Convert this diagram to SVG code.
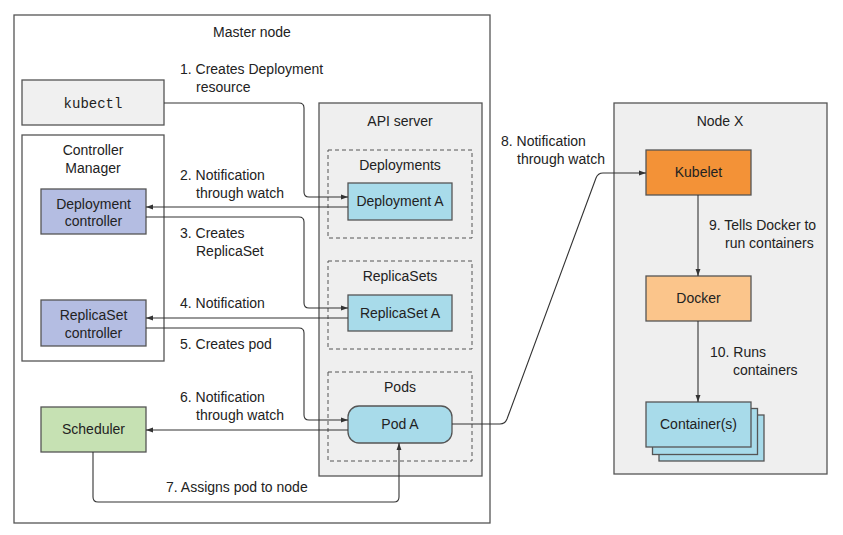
<svg xmlns="http://www.w3.org/2000/svg" width="843" height="535" viewBox="0 0 843 535">
<defs>
<marker id="ah" viewBox="0 0 10 10" refX="10" refY="5" markerWidth="7" markerHeight="7" markerUnits="userSpaceOnUse" orient="auto">
<path d="M0,1.5 L10,5 L0,8.5 z" fill="#333"/>
</marker>
<style>
text{font-family:"Liberation Sans",Arial,sans-serif;font-size:14px;fill:#222}
.c{text-anchor:middle}
.mono{font-family:"Liberation Mono","Courier New",monospace;font-size:14px}
.box{stroke:#555;stroke-width:1.3}
.dash{fill:none;stroke:#555;stroke-width:1;stroke-dasharray:4,3}
.conn path{fill:none;stroke:#333;stroke-width:1.1;marker-end:url(#ah)}
</style>
</defs>
<rect width="843" height="535" fill="#fff"/>

<g id="master">
<rect x="14" y="15" width="476" height="508" fill="#fff" class="box"/>
<text x="252" y="37" class="c">Master node</text>
</g>

<g id="kubectl">
<rect x="22" y="80" width="142" height="45" fill="#f0f0f0" class="box"/>
<text x="93" y="108" class="c mono">kubectl</text>
</g>

<g id="controller-manager">
<rect x="22" y="135" width="142" height="226" fill="#fff" class="box"/>
<text x="93" y="155" class="c">Controller</text>
<text x="93" y="173" class="c">Manager</text>
</g>

<g id="deployment-controller">
<rect x="41" y="189" width="105" height="45" fill="#b4bde2" class="box"/>
<text x="93.5" y="209" class="c">Deployment</text>
<text x="93.5" y="226" class="c">controller</text>
</g>

<g id="replicaset-controller">
<rect x="41" y="300" width="105" height="46" fill="#b4bde2" class="box"/>
<text x="93.5" y="320" class="c">ReplicaSet</text>
<text x="93.5" y="338" class="c">controller</text>
</g>

<g id="scheduler">
<rect x="41" y="407" width="105" height="45" fill="#c6e1b3" class="box"/>
<text x="93.5" y="434" class="c">Scheduler</text>
</g>

<g id="api-server">
<rect x="319" y="103" width="163" height="373" fill="#efefef" class="box"/>
<text x="400" y="126" class="c">API server</text>
<rect x="328" y="150" width="144" height="88" class="dash"/>
<text x="400" y="170" class="c">Deployments</text>
<rect x="328" y="261" width="144" height="88" class="dash"/>
<text x="400" y="281" class="c">ReplicaSets</text>
<rect x="328" y="372" width="144" height="89" class="dash"/>
<text x="400" y="392" class="c">Pods</text>
</g>

<g id="deployment-a">
<rect x="348" y="183" width="104" height="37" fill="#a8dbea" class="box"/>
<text x="400" y="206" class="c">Deployment A</text>
</g>

<g id="replicaset-a">
<rect x="348" y="295" width="104" height="36" fill="#a8dbea" class="box"/>
<text x="400" y="318" class="c">ReplicaSet A</text>
</g>

<g id="pod-a">
<rect x="348" y="406" width="104" height="37" rx="11" fill="#a8dbea" class="box"/>
<text x="400" y="429" class="c">Pod A</text>
</g>

<g id="node-x">
<rect x="614" y="103" width="213" height="371" fill="#efefef" class="box"/>
<text x="720" y="126" class="c">Node X</text>
</g>

<g id="kubelet">
<rect x="646" y="150" width="105" height="45" fill="#f39237" class="box"/>
<text x="698.5" y="177" class="c">Kubelet</text>
</g>

<g id="docker">
<rect x="646" y="276" width="105" height="45" fill="#fbc58b" class="box"/>
<text x="698.5" y="303" class="c">Docker</text>
</g>

<g id="containers">
<rect x="659" y="415" width="105" height="46" fill="#a8dbea" class="box"/>
<rect x="652.5" y="408.5" width="105" height="46" fill="#a8dbea" class="box"/>
<rect x="646" y="402" width="105" height="45" fill="#a8dbea" class="box"/>
<text x="698.5" y="429" class="c">Container(s)</text>
</g>

<g id="connectors" class="conn">
<path d="M164,103 H299 Q304,103 304,108 V192 Q304,197 309,197 H348"/>
<path d="M348,207 H146"/>
<path d="M146,217 H299 Q304,217 304,222 V303 Q304,308 309,308 H348"/>
<path d="M348,318 H146"/>
<path d="M146,328 H299 Q304,328 304,333 V415 Q304,420 309,420 H348"/>
<path d="M348,430 H146"/>
<path d="M93,452 V497 Q93,502 98,502 H394 Q399,502 399,497 V443"/>
<path d="M452,424 H500 Q505,424 507,419 L596,178 Q598,173 603,173 H646"/>
<path d="M698,195 V276"/>
<path d="M698,321 V402"/>
</g>

<g id="labels">
<text x="180" y="74">1. Creates Deployment</text>
<text x="196" y="92">resource</text>
<text x="180" y="180">2. Notification</text>
<text x="196" y="198">through watch</text>
<text x="180" y="238">3. Creates</text>
<text x="196" y="256">ReplicaSet</text>
<text x="180" y="308">4. Notification</text>
<text x="180" y="349">5. Creates pod</text>
<text x="180" y="402">6. Notification</text>
<text x="196" y="420">through watch</text>
<text x="166" y="492">7. Assigns pod to node</text>
<text x="501" y="146">8. Notification</text>
<text x="517" y="164">through watch</text>
<text x="709" y="230">9. Tells Docker to</text>
<text x="725" y="248">run containers</text>
<text x="710" y="357">10. Runs</text>
<text x="733" y="375">containers</text>
</g>
</svg>
